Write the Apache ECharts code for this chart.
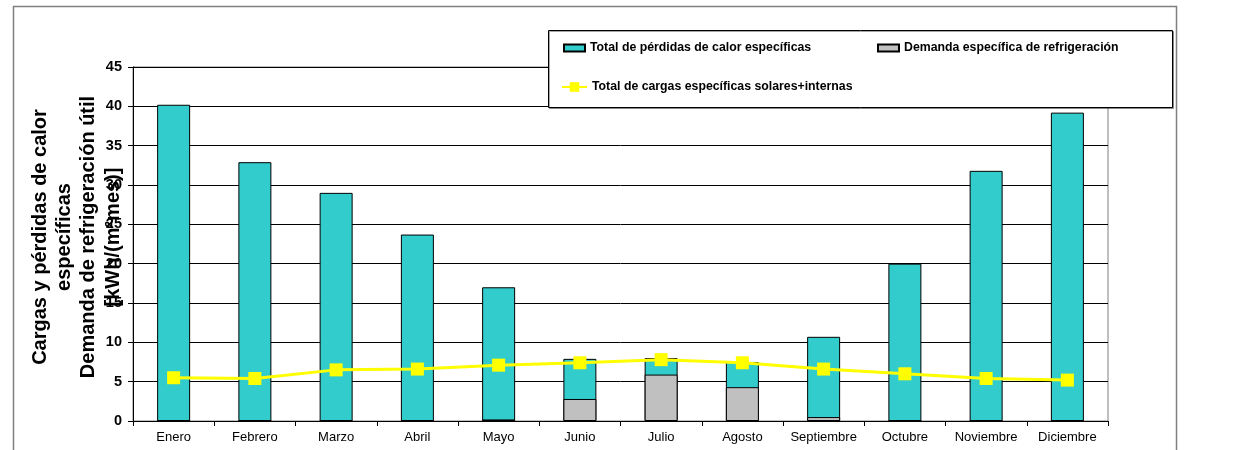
<!DOCTYPE html>
<html>
<head>
<meta charset="utf-8">
<style>
  html, body { margin: 0; padding: 0; background: #fff; }
  #chart { width: 1245px; height: 450px; }
</style>
<script src="https://cdn.jsdelivr.net/npm/echarts@6/dist/echarts.min.js"></script>
</head>
<body>
<div id="chart"></div>
<script>
// Monthly specific loads and demand, kWh/(m² mes)
const months = ['Enero', 'Febrero', 'Marzo', 'Abril', 'Mayo', 'Junio', 'Julio', 'Agosto', 'Septiembre', 'Octubre', 'Noviembre', 'Diciembre'];
const heatLosses = [40.2, 32.9, 29.0, 23.7, 17.0, 7.9, 8.0, 7.5, 10.7, 20.0, 31.8, 39.2];
const coolingDemand = [0, 0, 0, 0.05, 0.2, 2.8, 5.9, 4.3, 0.5, 0, 0, 0];
const gains = [5.5, 5.4, 6.5, 6.6, 7.1, 7.4, 7.8, 7.4, 6.6, 6.0, 5.4, 5.2];
const yTicks = [0, 5, 10, 15, 20, 25, 30, 35, 40, 45];

const names = {
  losses: 'Total de pérdidas de calor específicas',
  cooling: 'Demanda específica de refrigeración',
  gains: 'Total de cargas específicas solares+internas'
};
const titleLines = ['Cargas y pérdidas de calor', 'específicas', 'Demanda de refrigeración útil', '[kWh/(m²mes)]'];

const FONT = '"Liberation Sans", Arial, sans-serif';
const chart = echarts.init(document.getElementById('chart'));

const legendText = { fontFamily: FONT, fontSize: 12.3, fontWeight: 'bold', color: '#000' };

chart.setOption({
  animation: false,
  backgroundColor: '#fff',
  grid: {
    left: 133, right: 137, top: 67, bottom: 29,
    show: true, borderColor: '#808080', borderWidth: 1
  },
  legend: [
    { data: [{ name: names.losses, icon: 'rect' }], left: 563, top: 42, itemWidth: 21, itemHeight: 7, itemGap: 2, textStyle: legendText, z: 20, padding: 0 },
    { data: [{ name: names.cooling, icon: 'rect' }], left: 877, top: 42, itemWidth: 21, itemHeight: 7, itemGap: 2, textStyle: legendText, z: 20, padding: 0 },
    { data: [names.gains], left: 561, top: 81, itemWidth: 25, itemHeight: 12, itemGap: 2, textStyle: legendText, z: 20, padding: 0 }
  ],
  xAxis: {
    type: 'category',
    data: months,
    axisLine: { lineStyle: { color: '#000', width: 1 } },
    axisTick: { show: true, interval: 0, length: 5, lineStyle: { color: '#000' } },
    axisLabel: { interval: 0, hideOverlap: false, fontFamily: FONT, fontSize: 13, color: '#000', margin: 10 }
  },
  yAxis: {
    type: 'value',
    min: 0, max: 45, interval: 5,
    axisLine: { show: true, lineStyle: { color: '#000', width: 1 } },
    axisTick: { show: true, length: 5, lineStyle: { color: '#000' } },
    axisLabel: {
      fontFamily: FONT, fontSize: 14.5, fontWeight: 'bold', color: '#000', margin: 11,
      formatter: v => yTicks.includes(v) ? String(v) : ''
    },
    splitLine: { show: true, lineStyle: { color: '#000', width: 1 } }
  },
  series: [
    {
      name: names.losses,
      type: 'bar',
      data: heatLosses,
      barWidth: 33,
      barGap: '-100%',
      itemStyle: { color: '#33CCCC', borderColor: '#000', borderWidth: 1 },
      z: 2
    },
    {
      name: names.cooling,
      type: 'bar',
      data: coolingDemand,
      barWidth: 33,
      itemStyle: { color: '#C0C0C0', borderColor: '#000', borderWidth: 1 },
      z: 3
    },
    {
      name: names.gains,
      type: 'line',
      data: gains,
      symbol: 'rect',
      symbolSize: 13,
      lineStyle: { color: '#FFFF00', width: 3 },
      itemStyle: { color: '#FFFF00' },
      z: 5
    }
  ],
  graphic: [
    // outer chart frame
    {
      type: 'rect', z: 0, silent: true,
      shape: { x: 13.5, y: 6.5, width: 1163, height: 460 },
      style: { fill: 'none', stroke: '#808080', lineWidth: 1.5 }
    },
    // legend box
    {
      type: 'rect', z: 10, silent: true,
      shape: { x: 548.5, y: 30.5, width: 624, height: 77 },
      style: { fill: '#fff', stroke: '#000', lineWidth: 1, shadowColor: 'rgba(0,0,0,0.35)', shadowOffsetX: 1, shadowOffsetY: 1 }
    },
    // axis title, one rotated line each
    ...titleLines.map((t, i) => ({
      type: 'text', z: 30, silent: true,
      x: [40, 64, 88, 113][i], y: 237,
      rotation: Math.PI / 2,
      style: {
        text: t, fontFamily: FONT, fontSize: 20, fontWeight: 'bold', fill: '#000',
        align: 'center', verticalAlign: 'middle'
      }
    }))
  ]
});
</script>
</body>
</html>
